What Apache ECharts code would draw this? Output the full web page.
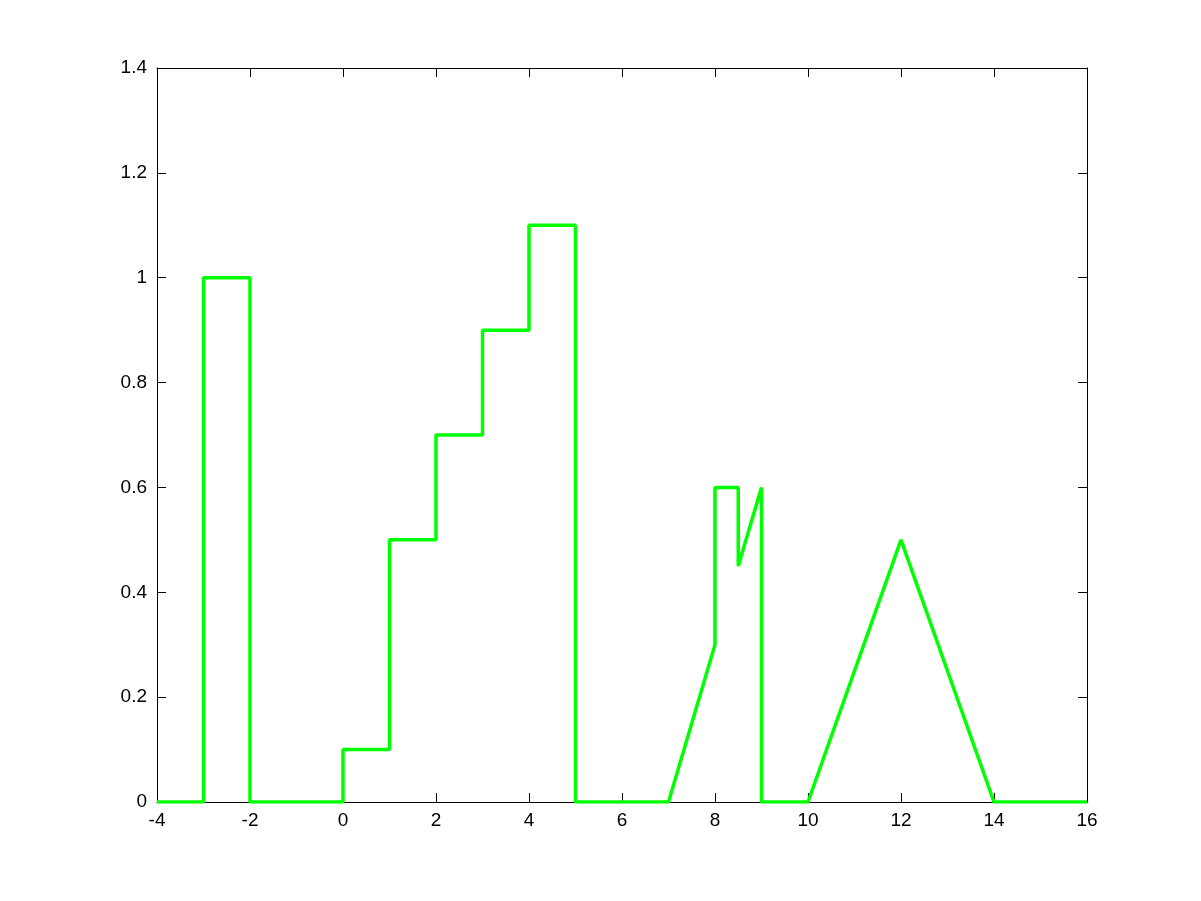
<!DOCTYPE html>
<html><head><meta charset="utf-8">
<script src="https://cdn.jsdelivr.net/npm/echarts@6/dist/echarts.min.js"></script>
<style>html,body{margin:0;padding:0;background:#fff}#c{width:1201px;height:901px}</style>
</head><body><div id="c"></div>
<script>
const xValues = [-4, -3, -3, -2, -2, 0, 0, 1, 1, 2, 2, 3, 3, 4, 4, 5, 5, 7, 8, 8, 8.5, 8.5, 9, 9, 10, 12, 14, 16];
const yValues = [0, 0, 1, 1, 0, 0, 0.1, 0.1, 0.5, 0.5, 0.7, 0.7, 0.9, 0.9, 1.1, 1.1, 0, 0, 0.3, 0.6, 0.6, 0.45, 0.6, 0, 0, 0.5, 0, 0];
const xTicks = [-4, -2, 0, 2, 4, 6, 8, 10, 12, 14, 16];
const yTicks = [0, 0.2, 0.4, 0.6, 0.8, 1, 1.2, 1.4];

const chart = echarts.init(document.getElementById('c'), null, {renderer: 'canvas'});
const font = {color: '#000', fontFamily: 'Liberation Sans, Arial, sans-serif', fontSize: 19};
const line = {show: true, lineStyle: {color: '#000', width: 1}};
const tick = {show: true, inside: true, length: 9, lineStyle: {color: '#000', width: 1}};
const fmt = v => String(Math.round(v * 10) / 10);
chart.setOption({
  animation: false,
  backgroundColor: '#fff',
  grid: {left: 157, right: 114, top: 68, bottom: 99, containLabel: false},
  xAxis: [
    {type: 'value', min: xTicks[0], max: xTicks[xTicks.length - 1], interval: 2, position: 'bottom',
     axisLine: {...line, onZero: false}, axisTick: tick, splitLine: {show: false},
     axisLabel: {...font, margin: 9, formatter: fmt}},
    {type: 'value', min: xTicks[0], max: xTicks[xTicks.length - 1], interval: 2, position: 'top',
     axisLine: {...line, onZero: false}, axisTick: tick, splitLine: {show: false}, axisLabel: {show: false}}
  ],
  yAxis: [
    {type: 'value', min: yTicks[0], max: yTicks[yTicks.length - 1], interval: 0.2, position: 'left',
     axisLine: {...line, onZero: false}, axisTick: tick, splitLine: {show: false},
     axisLabel: {...font, margin: 10, formatter: fmt}},
    {type: 'value', min: yTicks[0], max: yTicks[yTicks.length - 1], interval: 0.2, position: 'right',
     axisLine: {...line, onZero: false}, axisTick: tick, splitLine: {show: false}, axisLabel: {show: false}}
  ],
  series: [{
    type: 'line',
    xAxisIndex: 0, yAxisIndex: 0,
    data: xValues.map((x, i) => [x, yValues[i]]),
    showSymbol: false,
    symbol: 'none',
    lineStyle: {color: '#00ff00', width: 3.5},
    z: 1
  }]
});
</script></body></html>
